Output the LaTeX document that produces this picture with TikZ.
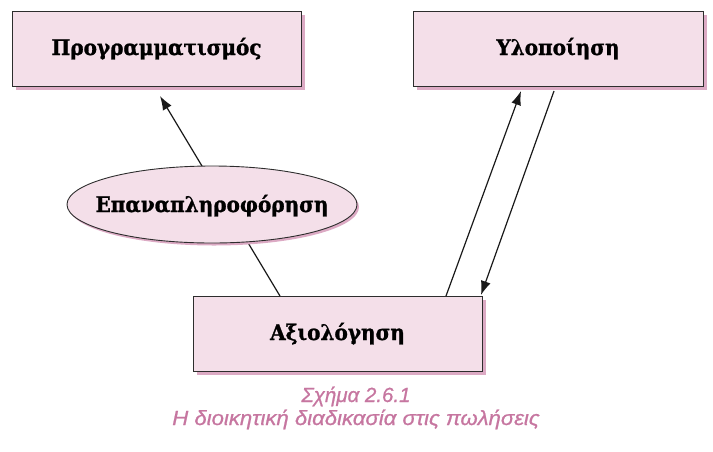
\documentclass[tikz,border=0pt]{standalone}
\usepackage{fontspec}
\setmainfont{DejaVu Serif}
\newfontfamily\boxfont[FakeStretch=0.93, BoldFeatures={FakeBold=1.2}]{DejaVu Serif}
\newfontfamily\capfont[ItalicFeatures={FakeBold=0.8}]{Liberation Sans}
\usetikzlibrary{shapes.geometric,arrows.meta,shadows}
\definecolor{boxfill}{RGB}{244,223,233}
\definecolor{shadowpink}{RGB}{220,170,196}
\definecolor{capcol}{RGB}{198,118,160}
\definecolor{edgecol}{RGB}{45,45,45}
\begin{document}
\begin{tikzpicture}[x=1pt,y=-1pt,
  stagebox/.style={draw=edgecol, line width=1pt, fill=boxfill,
    minimum width=289pt, minimum height=75pt, inner sep=0pt,
    text height=16pt, text depth=3pt,
    font=\boxfont\bfseries\fontsize{21.5}{25}\selectfont,
    drop shadow={shadow xshift=4pt, shadow yshift=-4pt, fill=shadowpink, opacity=1}},
  feedell/.style={ellipse, draw=edgecol, line width=0.9pt, fill=boxfill,
    minimum width=290pt, minimum height=77pt, inner sep=0pt,
    text height=17pt, text depth=2pt,
    font=\boxfont\bfseries\fontsize{21.5}{25}\selectfont,
    drop shadow={shadow xshift=2pt, shadow yshift=-2.5pt, fill=shadowpink, opacity=1}},
  conn/.style={draw=black!90, line width=1.2pt},
  arr/.style={conn, -{Latex[length=14pt,width=10pt]}},
  captxt/.style={font=\capfont\itshape\fontsize{20.5}{24}\selectfont, text=capcol, inner sep=0pt, anchor=base}
]
\useasboundingbox (0,0) rectangle (713,451);
\node[stagebox] (prog) at (156.5,48.5) {Προγραμματισμός};
\node[stagebox, minimum width=290pt] (ylo) at (558,48.5) {Υλοποίηση};
\node[stagebox] (axi) at (337.5,333.5) {Αξιολόγηση};
\coordinate (fbstart) at (280,296);
\coordinate (fbend) at (160,96);
\coordinate (upstart) at (446,296);
\coordinate (upend) at (521,91);
\coordinate (dnstart) at (554,91);
\coordinate (dnend) at (481,295);
\draw[arr] (fbstart) -- (fbend);
\node[feedell] (feed) at (212,204.5) {\makebox[0pt]{Επαναπληροφόρηση}};
\draw[arr] (upstart) -- (upend);
\draw[arr] (dnstart) -- (dnend);
\node[captxt] (cap1) at (356,402) {Σχήμα 2.6.1};
\node[captxt] (cap2) at (356,425) {\scalebox{1.08}[1]{Η διοικητική διαδικασία στις πωλήσεις}};
\end{tikzpicture}
\end{document}
